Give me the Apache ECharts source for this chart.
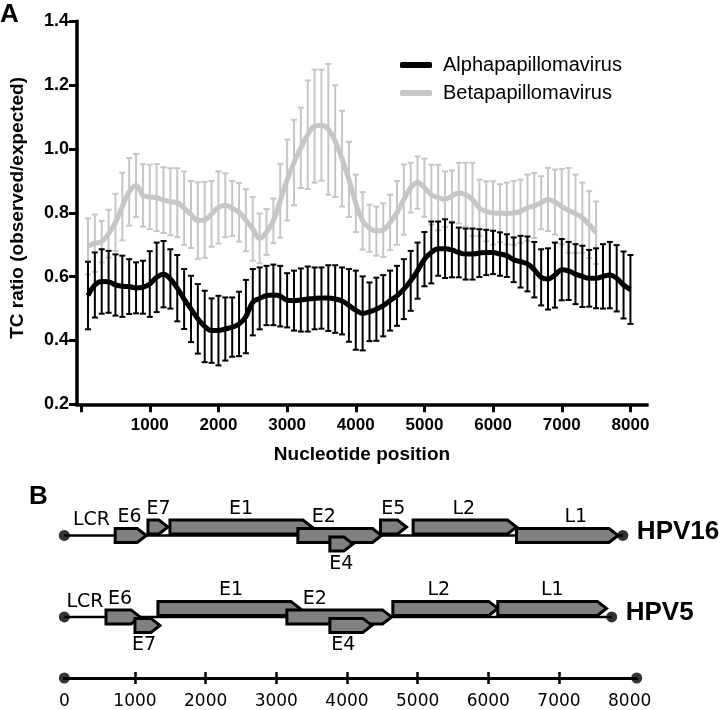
<!DOCTYPE html>
<html><head><meta charset="utf-8">
<script src="https://cdn.jsdelivr.net/npm/echarts@6/dist/echarts.min.js"></script>
<style>html,body{margin:0;padding:0;background:#fff}#c{width:720px;height:710px}</style>
</head><body><div id="c"></div>
<script>
// ---------- Panel A data ----------
const alphaPos = [100,200,300,400,500,600,700,800,900,1000,
 1100,1200,1300,1400,1500,1600,1700,1800,1900,2000,
 2100,2200,2300,2400,2500,2600,2700,2800,2900,3000,
 3100,3200,3300,3400,3500,3600,3700,3800,3900,4000,
 4100,4200,4300,4400,4500,4600,4700,4800,4900,5000,
 5100,5200,5300,5400,5500,5600,5700,5800,5900,6000,
 6100,6200,6300,6400,6500,6600,6700,6800,6900,7000,
 7100,7200,7300,7400,7500,7600,7700,7800,7900,8000];
const alphaMean = [0.541,0.574,0.585,0.584,0.574,0.570,0.569,0.565,0.567,0.577,
 0.598,0.608,0.593,0.564,0.530,0.499,0.468,0.444,0.431,0.431,
 0.436,0.442,0.452,0.475,0.520,0.532,0.541,0.543,0.539,0.526,
 0.525,0.527,0.530,0.532,0.533,0.533,0.530,0.524,0.510,0.495,
 0.485,0.490,0.498,0.509,0.525,0.540,0.561,0.587,0.619,0.655,
 0.676,0.688,0.688,0.684,0.676,0.671,0.671,0.674,0.676,0.676,
 0.671,0.666,0.653,0.647,0.640,0.622,0.598,0.593,0.605,0.622,
 0.618,0.608,0.601,0.595,0.595,0.601,0.605,0.595,0.574,0.560];
const alphaErr = [0.106,0.102,0.101,0.097,0.096,0.096,0.086,0.080,0.083,0.103,
 0.109,0.104,0.093,0.104,0.094,0.104,0.109,0.112,0.101,0.109,
 0.099,0.093,0.101,0.115,0.104,0.097,0.093,0.095,0.095,0.085,
 0.094,0.099,0.102,0.097,0.096,0.103,0.106,0.105,0.114,0.124,
 0.116,0.092,0.099,0.096,0.094,0.094,0.094,0.094,0.088,0.085,
 0.097,0.085,0.092,0.086,0.078,0.080,0.080,0.075,0.071,0.068,
 0.068,0.067,0.070,0.081,0.086,0.087,0.088,0.096,0.102,0.096,
 0.091,0.094,0.096,0.089,0.094,0.101,0.104,0.104,0.105,0.108];
const betaPos = [100,200,300,400,500,600,700,800,900,1000,
 1100,1200,1300,1400,1500,1600,1700,1800,1900,2000,
 2100,2200,2300,2400,2500,2600,2700,2800,2900,3000,
 3100,3200,3300,3400,3500,3600,3700,3800,3900,4000,
 4100,4200,4300,4400,4500,4600,4700,4800,4900,5000,
 5100,5200,5300,5400,5500,5600,5700,5800,5900,6000,
 6100,6200,6300,6400,6500,6600,6700,6800,6900,7000,
 7100,7200,7300,7400,7500];
const betaMean = [0.695,0.705,0.710,0.735,0.770,0.820,0.866,0.886,0.855,0.850,
 0.848,0.840,0.835,0.832,0.815,0.795,0.776,0.778,0.797,0.817,
 0.824,0.814,0.802,0.777,0.750,0.720,0.740,0.775,0.838,0.903,
 0.958,1.004,1.045,1.072,1.075,1.062,1.025,0.970,0.905,0.830,
 0.775,0.752,0.743,0.746,0.770,0.800,0.842,0.879,0.895,0.879,
 0.857,0.848,0.843,0.853,0.862,0.857,0.842,0.816,0.805,0.800,
 0.799,0.798,0.800,0.805,0.816,0.823,0.832,0.842,0.834,0.820,
 0.808,0.797,0.785,0.763,0.738];
const betaErr = [0.088,0.090,0.065,0.075,0.090,0.106,0.106,0.099,0.098,0.101,
 0.105,0.103,0.105,0.108,0.115,0.105,0.120,0.119,0.103,0.113,
 0.100,0.086,0.092,0.097,0.100,0.078,0.072,0.070,0.116,0.127,
 0.134,0.126,0.170,0.177,0.174,0.205,0.175,0.150,0.118,0.090,
 0.090,0.074,0.077,0.084,0.087,0.100,0.110,0.078,0.082,0.091,
 0.094,0.103,0.087,0.080,0.095,0.100,0.115,0.088,0.094,0.099,
 0.091,0.097,0.100,0.099,0.104,0.102,0.083,0.099,0.102,0.118,
 0.133,0.123,0.110,0.105,0.098];
const xTicksA = [0,1000,2000,3000,4000,5000,6000,7000,8000];
const xLabelsA = [1000,2000,3000,4000,5000,6000,7000,8000];

// ---------- Panel B data ----------
// genome rows: 1 = HPV16, 2 = HPV5, 2.75 = ruler
const genomeNames = ['HPV16','HPV5'];
const genomeRows = [1, 2];
const genomeLengths = [7904, 7746];
const rulerRow = 2.75;
const rulerEnd = 8100;
const rulerTicks = [1000,2000,3000,4000,5000,6000,7000];
const rulerLabels = [0,1000,2000,3000,4000,5000,6000,7000,8000];
// gene: name, start, end, lane (-1 top, 0 mid, 1 bottom), label anchor (nt), label side (-1 above, 1 below)
const hpv16Genes = ['E6','E7','E1','E2','E4','E5','L2','L1'];
const hpv16Start = [720,1184,1495,3305,3758,4475,4936,6399];
const hpv16End   = [1160,1467,3504,4489,4084,4843,6399,7836];
const hpv16Lane  = [0,-1,-1,0,1,-1,-1,0];
const hpv16LabelAt = [922,1332,2500,3673,3921,4656,5654,7237];
const hpv16Side  = [-1,-1,-1,-1,1,-1,-1,-1];
const hpv5Genes = ['E6','E7','E1','E2','E4','L2','L1'];
const hpv5Start = [590,1000,1325,3150,3758,4649,6134];
const hpv5End   = [1071,1353,3334,4631,4352,6134,7672];
const hpv5Lane  = [0,1,-1,0,1,-1,-1];
const hpv5LabelAt = [788,1127,2358,3546,3949,5300,6905];
const hpv5Side  = [-1,1,-1,-1,1,-1,-1];
const lcrLabelAt = [385, 293];

const LANE = 8.5, HALF = 7;
const GENEFONT = 'DejaVu Sans';
const BOLD = 'Liberation Sans';
const plain = v => String(v);

function errRender(color){
  return function(params, api){
    const x = api.value(0), m = api.value(1), e = api.value(2);
    const t = api.coord([x, m + e]), b = api.coord([x, m - e]);
    const w = 3, st = {stroke: color, lineWidth: 2};
    return {type:'group', children:[
      {type:'line', shape:{x1:t[0],y1:t[1],x2:b[0],y2:b[1]}, style:st},
      {type:'line', shape:{x1:t[0]-w,y1:t[1],x2:t[0]+w,y2:t[1]}, style:st},
      {type:'line', shape:{x1:b[0]-w,y1:b[1],x2:b[0]+w,y2:b[1]}, style:st}
    ]};
  };
}
function geneRender(names){
  return function(params, api){
    const s = api.value(0), e = api.value(1), row = api.value(2), lane = api.value(3),
          lab = api.value(4), side = api.value(5);
    const p0 = api.coord([s, row]), p1 = api.coord([e, row]), lp = api.coord([lab, row]);
    const yc = p0[1] + lane * LANE, x0 = p0[0], x1 = p1[0];
    const tip = Math.min(9, (x1 - x0) * 0.45);
    const ly = side > 0 ? yc + HALF + 13 : yc - HALF - 11;
    return {type:'group', children:[
      {type:'polygon', shape:{points:[[x0,yc-HALF],[x1-tip,yc-HALF],[x1,yc],[x1-tip,yc+HALF],[x0,yc+HALF]]},
       style:{fill:'#808080', stroke:'#000', lineWidth:3, lineJoin:'miter'}},
      {type:'text', x: lp[0], y: ly, style:{text: names[params.dataIndex], fill:'#000',
       fontSize:19, fontFamily:GENEFONT, align:'center', verticalAlign:'middle'}}
    ]};
  };
}

const chart = echarts.init(document.getElementById('c'), null, {renderer:'canvas'});
const option = {
  animation: false,
  backgroundColor: '#fff',
  graphic: [
    {type:'text', left: 0, top: 2, style:{text:'A', fontSize:26, fontWeight:'bold', fontFamily:BOLD, fill:'#000'}},
    {type:'text', left: 29, top: 484, style:{text:'B', fontSize:26, fontWeight:'bold', fontFamily:BOLD, fill:'#000'}}
  ],
  legend: {
    orient:'vertical', left: 395, top: 50, itemWidth: 32, itemHeight: 6, itemGap: 8,
    icon:'roundRect', selectedMode:false,
    textStyle:{fontFamily:BOLD, fontSize:20, color:'#000', lineHeight:20, padding:[0,0,0,6]},
    data:['Alphapapillomavirus','Betapapillomavirus']
  },
  grid: [
    {left: 72.5, right: 73.1, top: 21.5, bottom: 305.7},
    {left: 64.3, right: 83.3, top: 494.75, bottom: 31.9}
  ],
  xAxis: [
    {gridIndex:0, type:'value', min:-60, max:8240,
     axisLine:{show:true, onZero:false, lineStyle:{color:'#000', width:3.5, cap:'square'}},
     axisTick:{show:true, customValues:xTicksA, length:8, lineStyle:{color:'#000', width:3}},
     axisLabel:{customValues:xLabelsA, formatter:plain, fontFamily:BOLD, fontWeight:'bold', fontSize:17, color:'#000', margin:13},
     splitLine:{show:false},
     name:'Nucleotide position', nameLocation:'middle', nameGap:41,
     nameTextStyle:{fontFamily:BOLD, fontWeight:'bold', fontSize:19, color:'#000'}},
    {gridIndex:1, type:'value', min:0, max:rulerEnd, position:'bottom',
     axisLine:{show:true, onZero:false, lineStyle:{color:'#000', width:3}},
     axisTick:{show:true, customValues:rulerTicks, length:6, lineStyle:{color:'#000', width:2.5}},
     axisLabel:{customValues:rulerLabels, formatter:plain, fontFamily:GENEFONT, fontSize:17, color:'#000', margin:15},
     splitLine:{show:false}},
    {gridIndex:1, type:'value', min:0, max:rulerEnd, position:'bottom',
     axisLine:{show:false, onZero:false},
     axisTick:{show:true, inside:true, customValues:rulerTicks, length:6, lineStyle:{color:'#000', width:2.5}},
     axisLabel:{show:false}, splitLine:{show:false}}
  ],
  yAxis: [
    {gridIndex:0, type:'value', min:0.2, max:1.4, interval:0.2,
     axisLine:{show:true, onZero:false, lineStyle:{color:'#000', width:3.5, cap:'square'}},
     axisTick:{show:true, length:8, lineStyle:{color:'#000', width:3}},
     axisLabel:{formatter:v=>v.toFixed(1), fontFamily:BOLD, fontWeight:'bold', fontSize:18, color:'#000', margin:8},
     splitLine:{show:false},
     name:'TC ratio (observed/expected)', nameLocation:'middle', nameGap:50, nameRotate:90,
     nameTextStyle:{fontFamily:BOLD, fontWeight:'bold', fontSize:19, color:'#000', padding:[0,0,0,10]}},
    {gridIndex:1, type:'value', min:0.5, max:rulerRow, inverse:true, show:false}
  ],
  series: [
    {type:'custom', name:'betaErr', xAxisIndex:0, yAxisIndex:0, renderItem: errRender('#c6c6c6'),
     encode:{x:0, y:1}, data: betaPos.map((x,i)=>[x, betaMean[i], betaErr[i]])},
    {type:'line', name:'Betapapillomavirus', xAxisIndex:0, yAxisIndex:0, smooth:0.4, showSymbol:false, symbol:'none',
     color:'#c6c6c6', lineStyle:{color:'#c6c6c6', width:5}, data: betaPos.map((x,i)=>[x, betaMean[i]])},
    {type:'custom', name:'alphaErr', xAxisIndex:0, yAxisIndex:0, renderItem: errRender('#000'),
     encode:{x:0, y:1}, data: alphaPos.map((x,i)=>[x, alphaMean[i], alphaErr[i]])},
    {type:'line', name:'Alphapapillomavirus', xAxisIndex:0, yAxisIndex:0, smooth:0.4, showSymbol:false, symbol:'none',
     color:'#000', lineStyle:{color:'#000', width:5}, data: alphaPos.map((x,i)=>[x, alphaMean[i]])},
    // genome backbones
    {type:'custom', name:'backbone', xAxisIndex:1, yAxisIndex:1,
     renderItem:(params, api)=>{
       const a = api.coord([0, api.value(1)]), b = api.coord([api.value(0), api.value(1)]);
       return {type:'line', shape:{x1:a[0],y1:a[1],x2:b[0],y2:b[1]}, style:{stroke:'#000', lineWidth:2.5}};
     }, data: genomeLengths.map((l,i)=>[l, genomeRows[i]])},
    // LCR labels
    {type:'custom', name:'lcr', xAxisIndex:1, yAxisIndex:1,
     renderItem:(params, api)=>{
       const p = api.coord([api.value(0), api.value(1)]);
       return {type:'text', x:p[0], y:p[1]-15, style:{text:'LCR', fill:'#000', fontSize:19, fontFamily:GENEFONT, align:'center', verticalAlign:'middle'}};
     }, data: lcrLabelAt.map((v,i)=>[v, genomeRows[i]])},
    {type:'custom', name:'HPV16 genes', xAxisIndex:1, yAxisIndex:1, renderItem: geneRender(hpv16Genes),
     encode:{x:[0,1], y:2},
     data: hpv16Genes.map((g,i)=>[hpv16Start[i], hpv16End[i], genomeRows[0], hpv16Lane[i], hpv16LabelAt[i], hpv16Side[i]])},
    {type:'custom', name:'HPV5 genes', xAxisIndex:1, yAxisIndex:1, renderItem: geneRender(hpv5Genes),
     encode:{x:[0,1], y:2},
     data: hpv5Genes.map((g,i)=>[hpv5Start[i], hpv5End[i], genomeRows[1], hpv5Lane[i], hpv5LabelAt[i], hpv5Side[i]])},
    // genome names
    {type:'custom', name:'genomeNames', xAxisIndex:1, yAxisIndex:1,
     renderItem:(params, api)=>{
       const p = api.coord([api.value(0), api.value(1)]);
       return {type:'text', x:p[0]+14, y:p[1]-4, style:{text: genomeNames[params.dataIndex], fill:'#000',
         fontSize:26, fontWeight:'bold', fontFamily:BOLD, align:'left', verticalAlign:'middle'}};
     }, data: genomeLengths.map((l,i)=>[l, genomeRows[i]])},
    // end dots
    {type:'scatter', name:'dots', xAxisIndex:1, yAxisIndex:1, symbol:'circle', symbolSize:11,
     itemStyle:{color:'#000'}, z:5,
     data: [[0, genomeRows[0]], [genomeLengths[0], genomeRows[0]], [0, genomeRows[1]], [genomeLengths[1], genomeRows[1]], [0, rulerRow], [rulerEnd, rulerRow]]}
  ]
};
chart.setOption(option);
</script></body></html>
